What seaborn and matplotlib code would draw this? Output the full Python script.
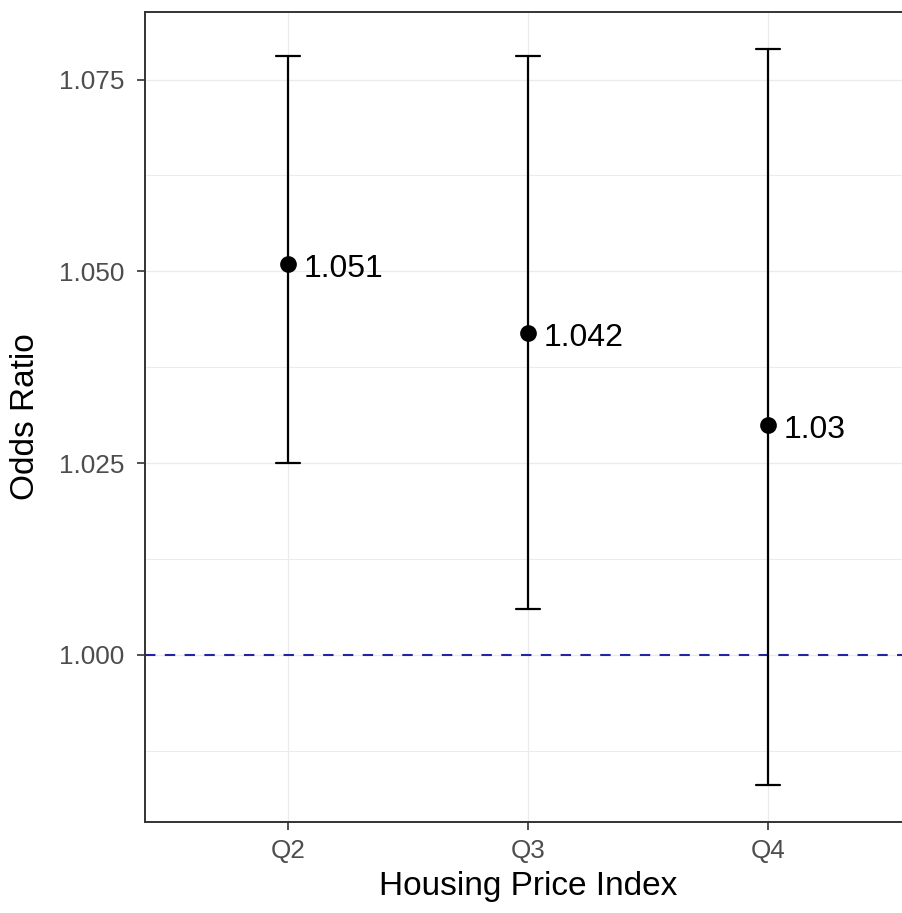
import matplotlib
matplotlib.use("Agg")
import matplotlib.pyplot as plt
from matplotlib.ticker import MultipleLocator, FixedLocator
import seaborn as sns
import pandas as pd

# ---- data ----
quartiles = ["Q2", "Q3", "Q4"]
odds_ratio = [1.051, 1.042, 1.030]
ci_lower = [1.025, 1.006, 0.983]
ci_upper = [1.078, 1.078, 1.079]
value_labels = ["1.051", "1.042", "1.03"]
y_ticks = [1.000, 1.025, 1.050, 1.075]
y_tick_labels = ["1.000", "1.025", "1.050", "1.075"]
ref_line = 1.0

sns.set_theme(style="white")
plt.rcParams["font.family"] = ["Liberation Sans", "DejaVu Sans"]

long = pd.DataFrame({
    "quartile": quartiles * 3,
    "value": ci_lower + odds_ratio + ci_upper,
})

fig = plt.figure(figsize=(9.02, 9.13), dpi=100)
ax = fig.add_axes([145 / 902, 91 / 913, 766 / 902, 810 / 913])
ax.set_facecolor("white")

ax.axhline(ref_line, color="#2424A0", lw=1.5, ls=(0, (5, 4.5)), zorder=1.5)

sns.pointplot(
    data=long, x="quartile", y="value", order=quartiles,
    estimator="median", errorbar=lambda v: (v.min(), v.max()),
    capsize=0.1, linestyle="none", color="black", marker="o",
    markersize=10, err_kws={"linewidth": 1.6}, ax=ax, zorder=3,
)

for i, (v, lab) in enumerate(zip(odds_ratio, value_labels)):
    ax.annotate(lab, xy=(i, v), xytext=(11.5, -9.5), textcoords="offset points",
                ha="left", va="baseline", fontsize=23, color="black", zorder=4)

# limits (ggplot-like 5% expansion of data range)
lo, hi = min(ci_lower), max(ci_upper)
pad = (hi - lo) * 0.05
ax.set_ylim(lo - pad, hi + pad)
ax.set_xlim(-0.596, len(quartiles) - 1 + 0.596)

ax.yaxis.set_major_locator(FixedLocator(y_ticks))
ax.set_yticklabels(y_tick_labels)
ax.yaxis.set_minor_locator(MultipleLocator(0.0125))
ax.grid(True, which="major", color="#EBEBEB", lw=0.9, zorder=0)
ax.grid(True, which="minor", axis="y", color="#EBEBEB", lw=0.7, zorder=0)
ax.set_axisbelow(True)

ax.tick_params(axis="both", which="major", length=6, width=1.2, color="#333333",
               labelcolor="#4D4D4D", labelsize=18.8, left=True, bottom=True)
ax.tick_params(axis="y", pad=9)
ax.tick_params(axis="x", pad=6)
ax.tick_params(which="minor", length=0)

for s in ax.spines.values():
    s.set_color("#333333")
    s.set_linewidth(1.4)

ax.set_xlabel("Housing Price Index", fontsize=24, color="black", labelpad=6)
ax.set_ylabel("Odds Ratio", fontsize=24, color="black", labelpad=13)

fig.savefig("out.png", dpi=100)
